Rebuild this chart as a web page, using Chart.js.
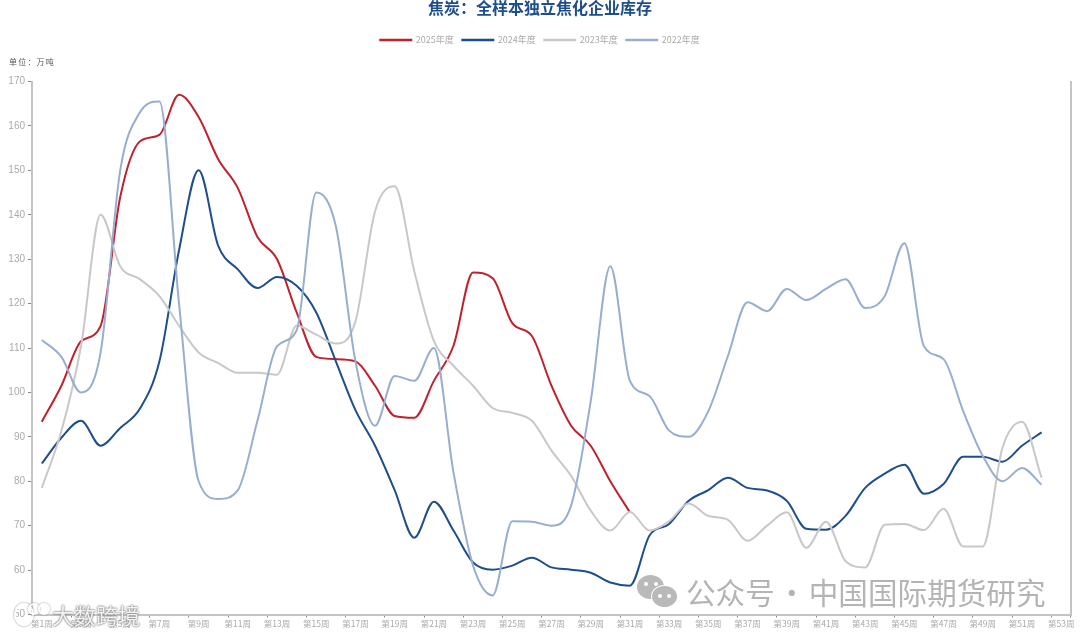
<!DOCTYPE html>
<html>
<head>
<meta charset="utf-8">
<title>焦炭：全样本独立焦化企业库存</title>
<script src="https://cdn.jsdelivr.net/npm/chart.js@4"></script>
<style>
  html, body {margin: 0; padding: 0; background: #fff;}
  #wrap {position: relative; width: 1080px; height: 635px; overflow: hidden; font-family: "Noto Sans CJK SC", sans-serif;}
  canvas {display: block;}
  .note {position: absolute; white-space: nowrap;}
  #unit {left: 9px; top: 55px; font-size: 8px; line-height: 14px; color: #555; letter-spacing: 1.2px;}
  #markRight {left: 686px; top: 572px; font-size: 29.6px; line-height: 40px; color: #b4b4b4;}
  #markRight span {display: inline-block; width: 34px; text-align: center;}
  #markLeft {left: 52px; top: 597px; font-size: 22px; line-height: 34px; color: rgba(255,255,255,0.9); text-shadow: 0 0 2px #777, 0 0 2px #777;}
  .bubble {position: absolute; border-radius: 50%; background: #b9b9b9;}
  .eye {position: absolute; border-radius: 50%; background: #fff; width: 4px; height: 4px;}
  .ring {position: absolute; border-radius: 50%; border: 2px solid rgba(255,255,255,0.9); box-shadow: 0 0 2px #777;}
</style>
</head>
<body>
<div id="wrap">
  <canvas id="stockChart" width="1080" height="635"></canvas>
  <div id="unit" class="note">单位：万吨</div>
  <div class="bubble" style="left:637px;top:575px;width:27px;height:24px"></div>
  <div class="eye" style="left:644px;top:582px"></div>
  <div class="eye" style="left:654px;top:582px"></div>
  <div class="bubble" style="left:652px;top:586px;width:25px;height:21px;border:1.5px solid #fff;box-sizing:content-box;margin:-1.5px"></div>
  <div class="eye" style="left:658px;top:594px"></div>
  <div class="eye" style="left:667px;top:594px"></div>
  <div id="markRight" class="note">公众号<span>·</span>中国国际期货研究</div>
  <div class="ring" style="left:14px;top:603px;width:16px;height:19px"></div>
  <div class="ring" style="left:28px;top:603px;width:8px;height:8px"></div>
  <div class="ring" style="left:38px;top:603px;width:8px;height:8px"></div>
  <div id="markLeft" class="note">大数跨境</div>
</div>
<script>
const weeks = [];
for (let w = 1; w <= 53; w++) weeks.push(`第${w}周`);

const yTicks = [50, 60, 70, 80, 90, 100, 110, 120, 130, 140, 150, 160, 170];

const stock2025 = [93.4, 101.5, 111.5, 115, 144, 156.5, 158, 167, 162, 152.5, 146, 135, 130, 118, 108, 107.5, 107, 101.5, 94.7, 94.3, 102.6, 110.5, 127, 125.7, 115.6, 112.7, 101.5, 92.5, 88, 80, 73];
const stock2024 = [84, 89.8, 93.6, 88, 92, 96.3, 107, 132, 150, 133, 127.7, 123.5, 126, 124, 118, 107, 96, 88, 78, 67.3, 75.4, 68.9, 61.7, 60.1, 61, 62.8, 60.6, 60.1, 59.4, 57.2, 56.5, 67.8, 70.4, 75.6, 78, 80.8, 78.5, 77.9, 75.6, 69.3, 69.1, 72.2, 78.5, 81.7, 83.7, 77.2, 79.4, 85.5, 85.5, 84.4, 88, 91];
const stock2023 = [78.5, 91.3, 110.4, 140, 128.4, 125.5, 121.7, 115, 109, 106.6, 104.4, 104.4, 104, 115, 113, 111, 116, 140.8, 146.4, 127.3, 111.6, 106, 101.5, 96.5, 95.4, 93.6, 86.9, 81.2, 73.4, 68.9, 73.1, 68.9, 71, 75, 72.2, 71.3, 66.6, 70, 73, 65, 70.9, 62, 60.6, 70.2, 70.4, 69, 73.8, 65.3, 65.3, 87.5, 93.4, 80.8];
const stock2022 = [111.8, 108, 100, 109, 150, 163, 165.5, 120, 80, 76, 78, 93.6, 110.4, 114, 145, 137.4, 107, 92.5, 103.7, 102.6, 110, 82, 61, 54.3, 71, 70.9, 70, 74.5, 98, 128.4, 102.6, 99.2, 91.4, 90, 95.8, 108.2, 120.3, 118.3, 123.3, 120.8, 123.3, 125.5, 119, 121.7, 133.6, 110.4, 107.5, 95.8, 85.7, 80, 83, 79.2];

const colors = {y2025: "#c0212d", y2024: "#1f4e8c", y2023: "#c8c8c8", y2022: "#98add0"};
const axisColor = "#c4c4c4";
const cjk = '"Noto Sans CJK SC", sans-serif';

function lineSet(label, data, color) {
  return {
    label,
    data,
    borderColor: color,
    backgroundColor: color,
    borderWidth: 2,
    pointRadius: 0,
    tension: 0,
    cubicInterpolationMode: "monotone"
  };
}

// leaves room under the legend for the unit note
const legendGap = {
  id: "legendGap",
  beforeInit(chart) {
    const fit = chart.legend.fit;
    chart.legend.fit = function () {
      fit.call(this);
      this.height += 27;
    };
  }
};

new Chart(document.getElementById("stockChart"), {
  type: "line",
  plugins: [legendGap],
  data: {
    labels: weeks,
    datasets: [
      lineSet("2022年度", stock2022, colors.y2022),
      lineSet("2023年度", stock2023, colors.y2023),
      lineSet("2024年度", stock2024, colors.y2024),
      lineSet("2025年度", stock2025, colors.y2025)
    ]
  },
  options: {
    responsive: false,
    animation: false,
    plugins: {
      title: {
        display: true,
        text: "焦炭：全样本独立焦化企业库存",
        color: "#1f4e8c",
        font: {family: cjk, size: 16, weight: "bold", lineHeight: 1},
        padding: {top: 0, bottom: 11}
      },
      legend: {
        reverse: true,
        labels: {
          boxWidth: 31,
          boxHeight: 0.5,
          padding: 8.5,
          color: "#aaa",
          font: {family: cjk, size: 9}
        }
      },
      tooltip: {enabled: false}
    },
    scales: {
      x: {
        offset: true,
        afterFit: scale => { scale.height = 20.5; },
        border: {color: axisColor, width: 2},
        grid: {
          offset: true,
          drawOnChartArea: false,
          tickLength: 3,
          tickColor: ctx => (ctx.index === undefined || ctx.index % 2 === 0) ? "#888" : "rgba(0,0,0,0)"
        },
        ticks: {
          autoSkip: false,
          maxRotation: 0,
          padding: 1,
          color: "#aaa",
          font: {family: cjk, size: 8.5},
          callback(value, index) { return index % 2 === 0 ? this.getLabelForValue(value) : ""; }
        }
      },
      y: {
        min: 50,
        max: 170,
        afterFit: scale => { scale.width = 32; },
        afterBuildTicks: scale => { scale.ticks = yTicks.map(value => ({value})); },
        border: {color: axisColor, width: 2},
        grid: {drawOnChartArea: false, tickLength: 4, tickColor: "#888"},
        ticks: {padding: 3, color: "#aaa", font: {family: "Liberation Sans", size: 10}}
      },
      yRight: {
        position: "right",
        min: 50,
        max: 170,
        afterFit: scale => { scale.width = 9; },
        border: {color: axisColor, width: 2},
        grid: {drawOnChartArea: false, drawTicks: false},
        ticks: {display: false}
      }
    }
  }
});
</script>
</body>
</html>
